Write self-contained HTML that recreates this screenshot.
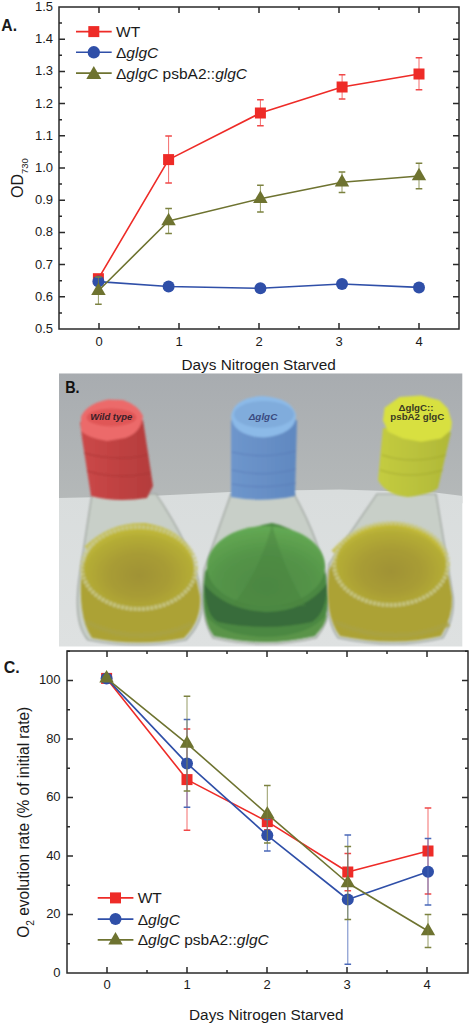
<!DOCTYPE html><html><head><meta charset="utf-8"><style>html,body{margin:0;padding:0;background:#fff;}svg{display:block}text{font-family:"Liberation Sans",sans-serif;fill:#1a1a1a}</style></head><body>
<svg width="470" height="1023" viewBox="0 0 470 1023">
<rect width="470" height="1023" fill="#fff"/>
<rect x="59" y="7" width="400" height="322" fill="none" stroke="#2a2a2a" stroke-width="1.5"/>
<path d="M99,329v-6M99,7v6M179,329v-6M179,7v6M259,329v-6M259,7v6M339,329v-6M339,7v6M419,329v-6M419,7v6M139.0,329v-3M139.0,7v3M219.0,329v-3M219.0,7v3M299.0,329v-3M299.0,7v3M379.0,329v-3M379.0,7v3M59,296.8h6M459,296.8h-6M59,264.6h6M459,264.6h-6M59,232.39999999999998h6M459,232.39999999999998h-6M59,200.2h6M459,200.2h-6M59,168.0h6M459,168.0h-6M59,135.79999999999998h6M459,135.79999999999998h-6M59,103.59999999999994h6M459,103.59999999999994h-6M59,71.39999999999998h6M459,71.39999999999998h-6M59,39.200000000000045h6M459,39.200000000000045h-6M59,312.9h3M459,312.9h-3M59,280.7h3M459,280.7h-3M59,248.5h3M459,248.5h-3M59,216.29999999999995h3M459,216.29999999999995h-3M59,184.09999999999997h3M459,184.09999999999997h-3M59,151.89999999999998h3M459,151.89999999999998h-3M59,119.69999999999996h3M459,119.69999999999996h-3M59,87.5h3M459,87.5h-3M59,55.299999999999955h3M459,55.299999999999955h-3M59,23.099999999999966h3M459,23.099999999999966h-3" stroke="#2a2a2a" stroke-width="1.5" fill="none"/>
<text x="53" y="333.0" font-size="13" text-anchor="end" font-weight="normal" >0.5</text>
<text x="53" y="300.8" font-size="13" text-anchor="end" font-weight="normal" >0.6</text>
<text x="53" y="268.6" font-size="13" text-anchor="end" font-weight="normal" >0.7</text>
<text x="53" y="236.39999999999998" font-size="13" text-anchor="end" font-weight="normal" >0.8</text>
<text x="53" y="204.2" font-size="13" text-anchor="end" font-weight="normal" >0.9</text>
<text x="53" y="172.0" font-size="13" text-anchor="end" font-weight="normal" >1.0</text>
<text x="53" y="139.79999999999998" font-size="13" text-anchor="end" font-weight="normal" >1.1</text>
<text x="53" y="107.59999999999994" font-size="13" text-anchor="end" font-weight="normal" >1.2</text>
<text x="53" y="75.39999999999998" font-size="13" text-anchor="end" font-weight="normal" >1.3</text>
<text x="53" y="43.200000000000045" font-size="13" text-anchor="end" font-weight="normal" >1.4</text>
<text x="53" y="11.0" font-size="13" text-anchor="end" font-weight="normal" >1.5</text>
<text x="99" y="345.9" font-size="13" text-anchor="middle" font-weight="normal" >0</text>
<text x="179" y="345.9" font-size="13" text-anchor="middle" font-weight="normal" >1</text>
<text x="259" y="345.9" font-size="13" text-anchor="middle" font-weight="normal" >2</text>
<text x="339" y="345.9" font-size="13" text-anchor="middle" font-weight="normal" >3</text>
<text x="419" y="345.9" font-size="13" text-anchor="middle" font-weight="normal" >4</text>
<text x="181.5" y="369.7" font-size="14" text-anchor="start" font-weight="normal" textLength="154.3" lengthAdjust="spacingAndGlyphs">Days Nitrogen Starved</text>
<text transform="translate(22.6,198) rotate(-90)" font-size="16">OD<tspan font-size="9.5" dy="5.5">730</tspan></text>
<text x="1.3" y="30.8" font-size="17" text-anchor="start" font-weight="bold" textLength="15.7" lengthAdjust="spacingAndGlyphs">A.</text>
<path d="M168.6,136.1V183.1" stroke="#f04848" stroke-width="1" fill="none" opacity="0.8"/>
<path d="M165.3,136.1h6.6M165.3,183.1h6.6" stroke="#f04848" stroke-width="1.5" fill="none"/>
<path d="M260.4,99.8V125.7" stroke="#f04848" stroke-width="1" fill="none" opacity="0.8"/>
<path d="M257.1,99.8h6.6M257.1,125.7h6.6" stroke="#f04848" stroke-width="1.5" fill="none"/>
<path d="M342.1,74.7V98.9" stroke="#f04848" stroke-width="1" fill="none" opacity="0.8"/>
<path d="M338.8,74.7h6.6M338.8,98.9h6.6" stroke="#f04848" stroke-width="1.5" fill="none"/>
<path d="M419.0,57.7V89.7" stroke="#f04848" stroke-width="1" fill="none" opacity="0.8"/>
<path d="M415.7,57.7h6.6M415.7,89.7h6.6" stroke="#f04848" stroke-width="1.5" fill="none"/>
<path d="M98.4,278.7L168.6,159.6L260.4,113.0L342.1,87.0L419.0,74.0" stroke="#ee2b27" stroke-width="1.6" fill="none" stroke-linejoin="round"/>
<rect x="92.9" y="273.2" width="11" height="11" fill="#ee2b27"/>
<rect x="163.1" y="154.1" width="11" height="11" fill="#ee2b27"/>
<rect x="254.9" y="107.5" width="11" height="11" fill="#ee2b27"/>
<rect x="336.6" y="81.5" width="11" height="11" fill="#ee2b27"/>
<rect x="413.5" y="68.5" width="11" height="11" fill="#ee2b27"/>
<path d="M98.4,281.6L168.6,286.5L260.4,288.3L342.0,284.0L419.0,287.4" stroke="#2f4fa8" stroke-width="1.6" fill="none" stroke-linejoin="round"/>
<circle cx="98.4" cy="281.6" r="6" fill="#2f4fa8"/>
<circle cx="168.6" cy="286.5" r="6" fill="#2f4fa8"/>
<circle cx="260.4" cy="288.3" r="6" fill="#2f4fa8"/>
<circle cx="342.0" cy="284.0" r="6" fill="#2f4fa8"/>
<circle cx="419.0" cy="287.4" r="6" fill="#2f4fa8"/>
<path d="M98.4,277.1V304.3" stroke="#7c8240" stroke-width="1" fill="none" opacity="0.8"/>
<path d="M95.1,277.1h6.6M95.1,304.3h6.6" stroke="#7c8240" stroke-width="1.5" fill="none"/>
<path d="M168.6,208.6V233.6" stroke="#7c8240" stroke-width="1" fill="none" opacity="0.8"/>
<path d="M165.3,208.6h6.6M165.3,233.6h6.6" stroke="#7c8240" stroke-width="1.5" fill="none"/>
<path d="M260.4,185.3V212.1" stroke="#7c8240" stroke-width="1" fill="none" opacity="0.8"/>
<path d="M257.1,185.3h6.6M257.1,212.1h6.6" stroke="#7c8240" stroke-width="1.5" fill="none"/>
<path d="M342.0,172.1V192.6" stroke="#7c8240" stroke-width="1" fill="none" opacity="0.8"/>
<path d="M338.7,172.1h6.6M338.7,192.6h6.6" stroke="#7c8240" stroke-width="1.5" fill="none"/>
<path d="M419.0,163.2V188.7" stroke="#7c8240" stroke-width="1" fill="none" opacity="0.8"/>
<path d="M415.7,163.2h6.6M415.7,188.7h6.6" stroke="#7c8240" stroke-width="1.5" fill="none"/>
<path d="M98.4,290.7L168.6,221.0L260.4,198.7L342.0,182.3L419.0,176.0" stroke="#6e7330" stroke-width="1.6" fill="none" stroke-linejoin="round"/>
<path d="M91.2,294.9L98.4,282.4L105.7,294.9Z" fill="#6e7330"/>
<path d="M161.3,225.2L168.6,212.7L175.8,225.2Z" fill="#6e7330"/>
<path d="M253.1,202.9L260.4,190.4L267.6,202.9Z" fill="#6e7330"/>
<path d="M334.8,186.5L342.0,174.0L349.2,186.5Z" fill="#6e7330"/>
<path d="M411.8,180.2L419.0,167.7L426.2,180.2Z" fill="#6e7330"/>
<path d="M76,31.6H111.7" stroke="#ee2b27" stroke-width="1.6"/>
<rect x="88.3" y="26.1" width="11" height="11" fill="#ee2b27"/>
<text x="116" y="37.1" font-size="15.5" text-anchor="start" font-weight="normal" >WT</text>
<path d="M76,52.3H111.7" stroke="#2f4fa8" stroke-width="1.6"/>
<circle cx="93.8" cy="52.3" r="6.2" fill="#2f4fa8"/>
<text x="116" y="57.8" font-size="15.5" text-anchor="start" font-weight="normal" >&#916;<tspan font-style="italic">glgC</tspan></text>
<path d="M76,73.1H111.7" stroke="#6e7330" stroke-width="1.6"/>
<path d="M86.3,78.9L93.8,66.1L101.3,78.9Z" fill="#6e7330"/>
<text x="116" y="78.6" font-size="15.5" text-anchor="start" font-weight="normal" >&#916;<tspan font-style="italic">glgC</tspan> psbA2::<tspan font-style="italic">glgC</tspan></text>
<defs>
<clipPath id="pc"><rect x="59" y="373.3" width="403.3" height="273.2"/></clipPath>
<linearGradient id="wall" x1="0" y1="0" x2="0" y2="1"><stop offset="0" stop-color="#a8acb0"/><stop offset="1" stop-color="#b5b9b9"/></linearGradient>
<linearGradient id="bench" x1="0" y1="0" x2="0" y2="1"><stop offset="0" stop-color="#d9dddd"/><stop offset="1" stop-color="#dee1e1"/></linearGradient>
<filter id="bl1" x="-10%" y="-10%" width="120%" height="120%"><feGaussianBlur stdDeviation="0.8"/></filter>
<filter id="bl2" x="-20%" y="-20%" width="140%" height="140%"><feGaussianBlur stdDeviation="2"/></filter>
<radialGradient id="ylw" cx="0.5" cy="0.6" r="0.6"><stop offset="0" stop-color="#a09234"/><stop offset="0.45" stop-color="#a89c34"/><stop offset="0.8" stop-color="#b4ac36"/><stop offset="1" stop-color="#c4bc3a"/></radialGradient>
<radialGradient id="grn" cx="0.5" cy="0.75" r="0.75"><stop offset="0" stop-color="#4e8a44"/><stop offset="0.55" stop-color="#549448"/><stop offset="1" stop-color="#64aa54"/></radialGradient>
<linearGradient id="cr" x1="0" y1="0" x2="1" y2="0"><stop offset="0" stop-color="#cc4848"/><stop offset="1" stop-color="#b43c3c"/></linearGradient>
<linearGradient id="cbl" x1="0" y1="0" x2="1" y2="0"><stop offset="0" stop-color="#6e96cc"/><stop offset="1" stop-color="#6088c0"/></linearGradient>
<linearGradient id="cy" x1="0" y1="0" x2="1" y2="0"><stop offset="0" stop-color="#c4cc40"/><stop offset="1" stop-color="#b0b838"/></linearGradient>
</defs>
<g clip-path="url(#pc)">
<rect x="59" y="373.3" width="404" height="130" fill="url(#wall)"/>
<path d="M59,498 L150,496 L250,491 L340,489.5 L435,492.5 L463,496 V647 H59 Z" fill="url(#bench)"/>
<path d="M92,494 L80,572 Q72,622 88,640 Q139,650 186,640 Q204,622 202,600 Q198,556 156,494 Z" fill="#c8cfc8" stroke="#9aa09a" stroke-width="1.2" filter="url(#bl1)"/>
<path d="M231,494 L204,570 Q199,616 213,638 Q264,650 316,638 Q331,620 329,599 Q326,552 294,494 Z" fill="#c8cfc8" stroke="#9aa09a" stroke-width="1.2" filter="url(#bl1)"/>
<path d="M377,494 L329,564 Q322,616 338,638 Q395,650 443,638 Q455,618 453,597 L436,494 Z" fill="#c8cfc8" stroke="#9aa09a" stroke-width="1.2" filter="url(#bl1)"/>
<g filter="url(#bl1)">
<path d="M82,566 Q77,616 92,638 Q139,647 184,638 Q202,620 200,596 L194,568 Q182,530 145,524 Q98,530 82,566 Z" fill="#aca236"/>
<ellipse cx="139" cy="567" rx="55" ry="40" fill="url(#ylw)"/>
<path d="M86,548 Q110,524 145,525 Q180,530 192,556" fill="none" stroke="#c4bc3c" stroke-width="4" opacity="0.85"/>
<ellipse cx="139" cy="568" rx="57" ry="41" fill="none" stroke="#c8c888" stroke-width="4" stroke-dasharray="3 1.2" opacity="0.95"/>
<path d="M86,622 Q139,648 192,624" fill="none" stroke="#aaa244" stroke-width="5" opacity="0.8"/>
</g>
<g filter="url(#bl1)">
<path d="M205,572 Q199,616 214,636 Q264,647 315,636 Q329,618 328,598 L326,575 Q310,530 272,523 Q226,530 205,572 Z" fill="#4c8842"/>
<path d="M204,584 Q206,616 218,622 Q266,632 312,622 Q327,612 327,584 Q305,612 266,612 Q225,610 204,584 Z" fill="#386c3a"/>
<path d="M206,616 Q208,632 216,636 Q264,648 314,636 Q326,626 327,614 Q310,636 266,637 Q222,636 206,616 Z" fill="#5a9448"/>
<ellipse cx="266" cy="566" rx="59" ry="40" fill="url(#grn)"/>
<path d="M272,525 Q258,575 232,606 L306,606 Q286,575 272,525 Z" fill="#4a843f" opacity="0.5"/>
</g>
<g filter="url(#bl1)">
<path d="M329,570 Q324,616 340,636 Q395,647 441,636 Q453,616 452,597 L447,567 Q430,528 395,523 Q346,530 329,570 Z" fill="#aca236"/>
<ellipse cx="391" cy="563" rx="56" ry="40" fill="url(#ylw)"/>
<path d="M333,552 Q355,526 395,524 Q432,530 446,556" fill="none" stroke="#c4bc3c" stroke-width="4" opacity="0.85"/>
<ellipse cx="391" cy="564" rx="57" ry="41" fill="none" stroke="#c8c888" stroke-width="4" stroke-dasharray="3 1.2" opacity="0.95"/>
<path d="M334,622 Q395,648 449,624" fill="none" stroke="#aaa244" stroke-width="5" opacity="0.8"/>
</g>
<g filter="url(#bl1)">
<path d="M80,422 L82,438 L91,496 Q116,503 147,498 L153,486 L143,420 Z" fill="url(#cr)"/>
<path d="M84,453 Q116,462 148,455" stroke="#a83434" stroke-width="1.2" fill="none" opacity="0.8"/>
<path d="M87,471 Q117,480 151,473" stroke="#a83434" stroke-width="1.2" fill="none" opacity="0.8"/>
<path d="M81,417 Q86,404 108,399.5 L123,400 Q138,405 143,416 Q141,433 125,438 L107,441 Q88,438 81,431 Z" fill="#ec6a6a"/>
<ellipse cx="111.5" cy="417.5" rx="25" ry="9" fill="#e05656"/>
</g>
<text x="111.3" y="420" font-size="9.5" font-weight="bold" font-style="italic" text-anchor="middle" style="fill:#3a1e28" textLength="42" lengthAdjust="spacingAndGlyphs">Wild type</text>
<g filter="url(#bl1)">
<path d="M231,420 L231,497 Q262,503 295,496 L297,420 Z" fill="url(#cbl)"/>
<path d="M232,452 Q263,460 296,451" stroke="#5a7cb8" stroke-width="1.2" fill="none" opacity="0.8"/>
<path d="M232,470 Q263,478 296,469" stroke="#5a7cb8" stroke-width="1.2" fill="none" opacity="0.8"/>
<path d="M232,484 Q263,490 296,483" stroke="#5a7cb8" stroke-width="1.2" fill="none" opacity="0.8"/>
<path d="M231,417 Q233,398 262,396 Q292,398 296,415 Q296,434 264,437.5 Q234,436 231,417 Z" fill="#8cbae8"/>
<ellipse cx="264" cy="414.5" rx="30" ry="13.5" fill="#80acdc"/>
</g>
<text x="263" y="420" font-size="9.5" font-weight="bold" font-style="italic" text-anchor="middle" style="fill:#3a4a80" textLength="28.5" lengthAdjust="spacingAndGlyphs">&#916;glgC</text>
<g filter="url(#bl1)">
<path d="M383,428 L378,480 Q386,495 408,497 Q432,494 438,488 L451,432 Z" fill="url(#cy)"/>
<path d="M382,455 Q412,465 446,455" stroke="#a0a830" stroke-width="1.2" fill="none" opacity="0.8"/>
<path d="M380,470 Q410,480 443,470" stroke="#a0a830" stroke-width="1.2" fill="none" opacity="0.8"/>
<path d="M384.6,407.8 L399.6,397 L421,395.6 L439.4,400.3 L447.7,408.6 L451.8,421.9 L451,430 L441,438.4 L421,441.7 L402.9,438.4 L388,431.8 L383,420.2 Z" fill="#d8e040"/>
</g>
<text x="416" y="411" font-size="9" font-weight="bold"  text-anchor="middle" style="fill:#3a3a22" textLength="35" lengthAdjust="spacingAndGlyphs">&#916;glgC::</text>
<text x="417.3" y="419.5" font-size="9" font-weight="bold"  text-anchor="middle" style="fill:#3a3a22" textLength="54" lengthAdjust="spacingAndGlyphs">psbA2 glgC</text>
<text x="65.2" y="393.4" font-size="15.8" font-weight="bold" style="fill:#111" textLength="14.4" lengthAdjust="spacingAndGlyphs">B.</text>
</g>
<rect x="67" y="651" width="401" height="322" fill="none" stroke="#2a2a2a" stroke-width="1.5"/>
<path d="M107,973v-6M107,651v6M187,973v-6M187,651v6M267,973v-6M267,651v6M347,973v-6M347,651v6M427,973v-6M427,651v6M147.0,973v-3M147.0,651v3M227.0,973v-3M227.0,651v3M307.0,973v-3M307.0,651v3M387.0,973v-3M387.0,651v3M67,914.5h6M468,914.5h-6M67,856.0h6M468,856.0h-6M67,797.5h6M468,797.5h-6M67,739.0h6M468,739.0h-6M67,680.5h6M468,680.5h-6M67,943.75h3M468,943.75h-3M67,885.25h3M468,885.25h-3M67,826.75h3M468,826.75h-3M67,768.25h3M468,768.25h-3M67,709.75h3M468,709.75h-3M67,651.25h3M468,651.25h-3" stroke="#2a2a2a" stroke-width="1.5" fill="none"/>
<text x="60.6" y="976.8" font-size="13" text-anchor="end" font-weight="normal" >0</text>
<text x="60.6" y="918.3" font-size="13" text-anchor="end" font-weight="normal" >20</text>
<text x="60.6" y="859.8" font-size="13" text-anchor="end" font-weight="normal" >40</text>
<text x="60.6" y="801.3" font-size="13" text-anchor="end" font-weight="normal" >60</text>
<text x="60.6" y="742.8" font-size="13" text-anchor="end" font-weight="normal" >80</text>
<text x="60.6" y="684.3" font-size="13" text-anchor="end" font-weight="normal" >100</text>
<text x="107" y="988.9" font-size="13" text-anchor="middle" font-weight="normal" >0</text>
<text x="187" y="988.9" font-size="13" text-anchor="middle" font-weight="normal" >1</text>
<text x="267" y="988.9" font-size="13" text-anchor="middle" font-weight="normal" >2</text>
<text x="347" y="988.9" font-size="13" text-anchor="middle" font-weight="normal" >3</text>
<text x="427" y="988.9" font-size="13" text-anchor="middle" font-weight="normal" >4</text>
<text x="189" y="1020" font-size="14" text-anchor="start" font-weight="normal" textLength="154.5" lengthAdjust="spacingAndGlyphs">Days Nitrogen Starved</text>
<text transform="translate(28.7,937.8) rotate(-90)" font-size="16" textLength="231" lengthAdjust="spacingAndGlyphs">O<tspan font-size="10.5" dy="5">2</tspan><tspan dy="-5"> evolution rate (% of initial rate)</tspan></text>
<text x="3.7" y="673.4" font-size="17" text-anchor="start" font-weight="bold" textLength="16" lengthAdjust="spacingAndGlyphs">C.</text>
<path d="M106.6,678.4L187.0,779.6L267.3,821.6L347.8,872.0L428.0,851.0" stroke="#ee2b27" stroke-width="1.6" fill="none" stroke-linejoin="round"/>
<rect x="101.1" y="672.9" width="11" height="11" fill="#ee2b27"/>
<rect x="181.5" y="774.1" width="11" height="11" fill="#ee2b27"/>
<rect x="261.8" y="816.1" width="11" height="11" fill="#ee2b27"/>
<rect x="342.3" y="866.5" width="11" height="11" fill="#ee2b27"/>
<rect x="422.5" y="845.5" width="11" height="11" fill="#ee2b27"/>
<path d="M187.0,728.9V830.3" stroke="#f04848" stroke-width="1" fill="none" opacity="0.8"/>
<path d="M183.7,728.9h6.6M183.7,830.3h6.6" stroke="#f04848" stroke-width="1.5" fill="none"/>
<path d="M267.3,813.6V829.7" stroke="#f04848" stroke-width="1" fill="none" opacity="0.8"/>
<path d="M264.0,813.6h6.6M264.0,829.7h6.6" stroke="#f04848" stroke-width="1.5" fill="none"/>
<path d="M347.8,853.4V890.8" stroke="#f04848" stroke-width="1" fill="none" opacity="0.8"/>
<path d="M344.5,853.4h6.6M344.5,890.8h6.6" stroke="#f04848" stroke-width="1.5" fill="none"/>
<path d="M428.0,808.1V893.9" stroke="#f04848" stroke-width="1" fill="none" opacity="0.8"/>
<path d="M424.7,808.1h6.6M424.7,893.9h6.6" stroke="#f04848" stroke-width="1.5" fill="none"/>
<path d="M106.6,678.4L187.0,763.4L267.3,835.3L347.8,899.5L428.0,871.8" stroke="#2f4fa8" stroke-width="1.6" fill="none" stroke-linejoin="round"/>
<circle cx="106.6" cy="678.4" r="6" fill="#2f4fa8"/>
<circle cx="187.0" cy="763.4" r="6" fill="#2f4fa8"/>
<circle cx="267.3" cy="835.3" r="6" fill="#2f4fa8"/>
<circle cx="347.8" cy="899.5" r="6" fill="#2f4fa8"/>
<circle cx="428.0" cy="871.8" r="6" fill="#2f4fa8"/>
<path d="M187.0,719.5V807.3" stroke="#4a68b8" stroke-width="1" fill="none" opacity="0.8"/>
<path d="M183.7,719.5h6.6M183.7,807.3h6.6" stroke="#4a68b8" stroke-width="1.5" fill="none"/>
<path d="M267.3,819.5V851.1" stroke="#4a68b8" stroke-width="1" fill="none" opacity="0.8"/>
<path d="M264.0,819.5h6.6M264.0,851.1h6.6" stroke="#4a68b8" stroke-width="1.5" fill="none"/>
<path d="M347.8,834.9V964.2" stroke="#4a68b8" stroke-width="1" fill="none" opacity="0.8"/>
<path d="M344.5,834.9h6.6M344.5,964.2h6.6" stroke="#4a68b8" stroke-width="1.5" fill="none"/>
<path d="M428.0,838.4V905.1" stroke="#4a68b8" stroke-width="1" fill="none" opacity="0.8"/>
<path d="M424.7,838.4h6.6M424.7,905.1h6.6" stroke="#4a68b8" stroke-width="1.5" fill="none"/>
<path d="M106.6,678.4L187.0,743.6L267.3,814.2L347.8,883.0L428.0,931.0" stroke="#6e7330" stroke-width="1.6" fill="none" stroke-linejoin="round"/>
<path d="M99.3,682.6L106.6,670.1L113.8,682.6Z" fill="#6e7330"/>
<path d="M179.8,747.8L187.0,735.3L194.2,747.8Z" fill="#6e7330"/>
<path d="M260.1,818.4L267.3,805.9L274.6,818.4Z" fill="#6e7330"/>
<path d="M340.6,887.2L347.8,874.7L355.1,887.2Z" fill="#6e7330"/>
<path d="M420.8,935.2L428.0,922.7L435.2,935.2Z" fill="#6e7330"/>
<path d="M187.0,696.3V791.0" stroke="#7c8240" stroke-width="1" fill="none" opacity="0.8"/>
<path d="M183.7,696.3h6.6M183.7,791.0h6.6" stroke="#7c8240" stroke-width="1.5" fill="none"/>
<path d="M267.3,785.5V843.0" stroke="#7c8240" stroke-width="1" fill="none" opacity="0.8"/>
<path d="M264.0,785.5h6.6M264.0,843.0h6.6" stroke="#7c8240" stroke-width="1.5" fill="none"/>
<path d="M347.8,846.4V919.5" stroke="#7c8240" stroke-width="1" fill="none" opacity="0.8"/>
<path d="M344.5,846.4h6.6M344.5,919.5h6.6" stroke="#7c8240" stroke-width="1.5" fill="none"/>
<path d="M428.0,914.4V947.6" stroke="#7c8240" stroke-width="1" fill="none" opacity="0.8"/>
<path d="M424.7,914.4h6.6M424.7,947.6h6.6" stroke="#7c8240" stroke-width="1.5" fill="none"/>
<path d="M97.7,897.9H133.4" stroke="#ee2b27" stroke-width="1.6"/>
<rect x="110.0" y="892.4" width="11" height="11" fill="#ee2b27"/>
<text x="137.7" y="903.4" font-size="15.5" text-anchor="start" font-weight="normal" >WT</text>
<path d="M97.7,919.1H133.4" stroke="#2f4fa8" stroke-width="1.6"/>
<circle cx="115.5" cy="919.1" r="6" fill="#2f4fa8"/>
<text x="137.7" y="924.6" font-size="15.5" text-anchor="start" font-weight="normal" >&#916;<tspan font-style="italic">glgC</tspan></text>
<path d="M97.7,939.9H133.4" stroke="#6e7330" stroke-width="1.6"/>
<path d="M108.3,944.5L115.5,932.1L122.7,944.5Z" fill="#6e7330"/>
<text x="137.7" y="945.4" font-size="15.5" text-anchor="start" font-weight="normal" >&#916;<tspan font-style="italic">glgC</tspan> psbA2::<tspan font-style="italic">glgC</tspan></text>
</svg></body></html>
